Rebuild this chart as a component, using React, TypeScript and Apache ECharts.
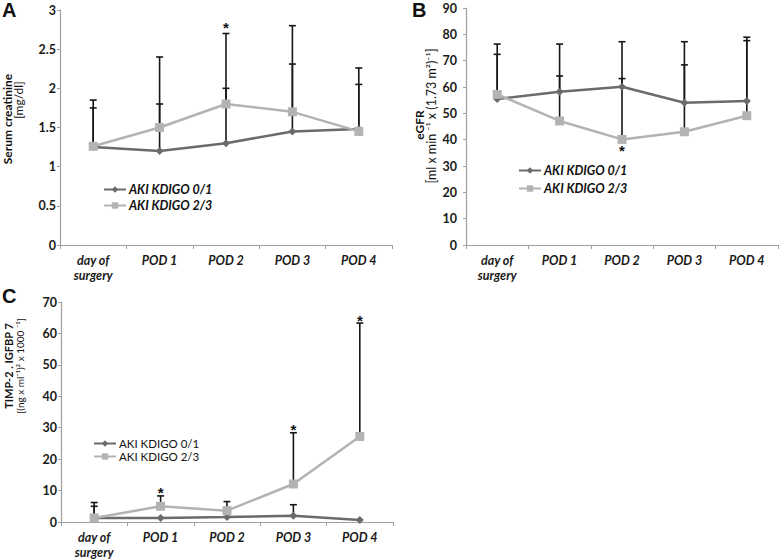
import React, { useEffect, useRef } from "react";
import * as echarts from "echarts";

const categories = ["day of\nsurgery", "POD 1", "POD 2", "POD 3", "POD 4"];
const seriesNames = ["AKI KDIGO 0/1", "AKI KDIGO 2/3"];

// Panel A: serum creatinine [mg/dl]
const creatLow = [1.25, 1.2, 1.3, 1.45, 1.48];
const creatHigh = [1.26, 1.5, 1.8, 1.7, 1.45];
const creatLowUpper = [1.75, 1.8, 2.0, 2.31, 2.05];
const creatHighUpper = [1.85, 2.4, 2.7, 2.8, 2.26];
const creatSig = [false, false, true, false, false];

// Panel B: eGFR
const egfrLow = [55.4, 58.2, 60.1, 54, 54.7];
const egfrHigh = [57.2, 47.1, 40.1, 43, 49.1];
const egfrLowUpper = [72.4, 64.2, 63.2, 68.4, 77.6];
const egfrHighUpper = [76.3, 76.3, 77.2, 77.2, 78.9];
const egfrSig = [false, false, true, false, false];

// Panel C: TIMP-2 . IGFBP 7
const timpLow = [1.3, 1.3, 1.6, 2.0, 0.6];
const timpHigh = [1.3, 5.0, 3.6, 12.1, 27.2];
const timpLowUpper: (number | null)[] = [5.0, null, null, 5.5, null];
const timpHighUpper: (number | null)[] = [6.2, 8.3, 6.5, 28.4, 63.3];
const timpSig = [false, true, false, true, true];

const FONT = "Lato, 'Liberation Sans', sans-serif";
const DARK = "#6b6b6b";
const LIGHT = "#b3b3b3";
const AXIS = "#a0a0a0";

function errorSeries(idx: number, means: number[], uppers: (number | null)[]) {
  const data = means
    .map((m, i) => [i, m, uppers[i]])
    .filter((d) => d[2] !== null);
  return {
    type: "custom",
    xAxisIndex: idx,
    yAxisIndex: idx,
    z: 1,
    silent: true,
    data,
    renderItem: (params: any, api: any) => {
      const x = api.value(0);
      const p0 = api.coord([x, api.value(1)]);
      const p1 = api.coord([x, api.value(2)]);
      const st = { stroke: "#161616", lineWidth: 1.6 };
      return {
        type: "group",
        children: [
          { type: "line", shape: { x1: p0[0], y1: p0[1], x2: p1[0], y2: p1[1] }, style: st },
          { type: "line", shape: { x1: p1[0] - 3.5, y1: p1[1], x2: p1[0] + 3.5, y2: p1[1] }, style: st },
        ],
      };
    },
  };
}

function starSeries(idx: number, anchors: (number | null)[], sig: boolean[], dy: number) {
  const data = anchors
    .map((v, i) => [i, v])
    .filter((d, i) => sig[i] && d[1] !== null);
  return {
    type: "custom",
    xAxisIndex: idx,
    yAxisIndex: idx,
    z: 5,
    silent: true,
    data,
    renderItem: (params: any, api: any) => {
      const p = api.coord([api.value(0), api.value(1)]);
      return {
        type: "text",
        x: p[0],
        y: p[1] + dy,
        style: {
          text: "*",
          fill: "#111",
          font: "bold 15px 'Liberation Sans', Arial, sans-serif",
          align: "center",
          verticalAlign: "middle",
        },
      };
    },
  };
}

function lineSeries(idx: number, low: number[], high: number[]) {
  return [
    {
      type: "line",
      name: seriesNames[0],
      xAxisIndex: idx,
      yAxisIndex: idx,
      data: low,
      symbol: "diamond",
      symbolSize: 8,
      z: 3,
      lineStyle: { color: DARK, width: 2.5 },
      itemStyle: { color: DARK },
    },
    {
      type: "line",
      name: seriesNames[1],
      xAxisIndex: idx,
      yAxisIndex: idx,
      data: high,
      symbol: "rect",
      symbolSize: 9,
      z: 4,
      lineStyle: { color: LIGHT, width: 2.5 },
      itemStyle: { color: LIGHT },
    },
  ];
}

function xAxis(idx: number) {
  return {
    type: "category",
    gridIndex: idx,
    data: categories,
    axisLine: { lineStyle: { color: AXIS, width: 1.2 } },
    axisTick: { show: true, length: 4, lineStyle: { color: AXIS } },
    axisLabel: {
      interval: 0,
      margin: 8,
      fontFamily: FONT,
      fontWeight: "bold",
      fontStyle: "italic",
      fontSize: 12.5,
      lineHeight: 15,
      color: "#1a1a1a",
    },
    splitLine: { show: false },
  };
}

function yAxis(idx: number, max: number, interval: number, margin: number) {
  return {
    type: "value",
    gridIndex: idx,
    min: 0,
    max,
    interval,
    axisLine: { show: true, lineStyle: { color: AXIS, width: 1.2 } },
    axisTick: { show: true, length: 3, lineStyle: { color: AXIS } },
    axisLabel: {
      margin,
      fontFamily: FONT,
      fontWeight: "bold",
      fontSize: 12.5,
      color: "#1a1a1a",
    },
    splitLine: { show: false },
  };
}

function legend(left: number, top: number, gap: number, italicBold: boolean, size: number, lh: number) {
  return {
    orient: "vertical",
    left,
    top,
    padding: 0,
    itemWidth: 22,
    itemHeight: 8,
    itemGap: gap,
    selectedMode: false,
    data: seriesNames,
    textStyle: {
      fontFamily: FONT,
      fontSize: size,
      lineHeight: lh,
      fontWeight: italicBold ? "bold" : "normal",
      fontStyle: italicBold ? "italic" : "normal",
      color: "#111",
      padding: [0, 0, 0, -2],
    },
  };
}

function vText(x: number, y: number, text: string, bold: boolean, size: number) {
  return {
    type: "text",
    x,
    y,
    rotation: Math.PI / 2,
    style: {
      text,
      font: `${bold ? "bold " : ""}${size}px ${FONT}`,
      fill: "#111",
      align: "center",
      verticalAlign: "middle",
    },
  };
}

function letter(x: number, y: number, text: string) {
  return {
    type: "text",
    x,
    y,
    style: {
      text,
      font: "bold 20px 'Liberation Sans', Arial, sans-serif",
      fill: "#111",
      align: "left",
      verticalAlign: "top",
    },
  };
}

export default function App() {
  const ref = useRef<HTMLDivElement>(null);
  useEffect(() => {
    if (!ref.current) return;
    const chart = echarts.init(ref.current, undefined, { renderer: "svg" });
    chart.setOption({
      animation: false,
      backgroundColor: "#ffffff",
      grid: [
        { left: 60, top: 10, width: 332, height: 235 },
        { left: 466, top: 8, width: 312, height: 237 },
        { left: 61, top: 302, width: 332, height: 224 },
      ],
      xAxis: [xAxis(0), xAxis(1), xAxis(2)],
      yAxis: [yAxis(0, 3, 0.5, 4), yAxis(1, 90, 10, 9), yAxis(2, 70, 10, 4)],
      legend: [
        legend(103, 182, 1, true, 12.5, 15),
        legend(518, 163, 3, true, 12.5, 15),
        legend(93, 437, 0, false, 11.5, 13),
      ],
      graphic: [
        letter(2, 0, "A"),
        letter(412, 0, "B"),
        letter(2, 286, "C"),
        vText(7, 119, "Serum creatinine", true, 12),
        vText(18, 100, "[mg/dl]", false, 12),
        vText(419, 125, "eGFR", true, 12),
        vText(431, 116, "[ml x min \u207B\u00B9 x (1.73 m\u00B2)\u207B\u00B9]", false, 12.5),
        vText(8, 366, "TIMP-2 . IGFBP 7", true, 11),
        vText(20, 366, "[(ng x ml\u207B\u00B9)\u00B2 x 1000 \u207B\u00B9]", false, 10),
      ],
      series: [
        errorSeries(0, creatLow, creatLowUpper),
        errorSeries(0, creatHigh, creatHighUpper),
        ...lineSeries(0, creatLow, creatHigh),
        starSeries(0, creatHighUpper, creatSig, -6),
        errorSeries(1, egfrLow, egfrLowUpper),
        errorSeries(1, egfrHigh, egfrHighUpper),
        ...lineSeries(1, egfrLow, egfrHigh),
        starSeries(1, egfrHigh, egfrSig, 11),
        errorSeries(2, timpLow, timpLowUpper),
        errorSeries(2, timpHigh, timpHighUpper),
        ...lineSeries(2, timpLow, timpHigh),
        starSeries(2, timpHighUpper, timpSig, -3),
      ],
    });
    return () => chart.dispose();
  }, []);
  return (
    <div
      ref={ref}
      style={{ position: "fixed", left: 0, top: 0, width: 779, height: 560, background: "#fff" }}
    />
  );
}
